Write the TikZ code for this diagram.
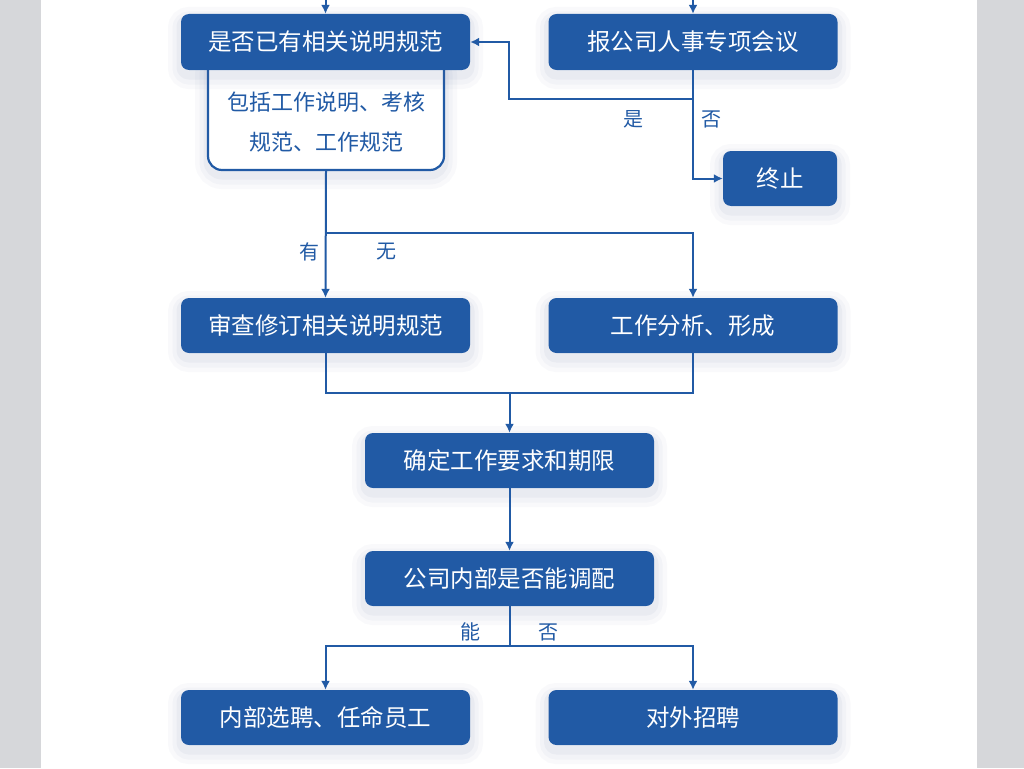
\documentclass[tikz,border=0pt]{standalone}
\usepackage{fontspec}
\newfontfamily\cjk{Noto Sans CJK SC}
\usetikzlibrary{arrows.meta}
\definecolor{bl}{RGB}{33,90,165}
\definecolor{shc}{RGB}{90,110,160}
\definecolor{side}{RGB}{214,215,218}
\begin{document}
\begin{tikzpicture}[x=1pt,y=-1pt,
  shad/.style={
    preaction={draw=shc,draw opacity=0.035,line width=26pt,transform canvas={yshift=-6pt}},
    preaction={draw=shc,draw opacity=0.045,line width=17pt,transform canvas={yshift=-6pt}},
    preaction={draw=shc,draw opacity=0.06,line width=9pt,transform canvas={yshift=-5pt}}},
  box/.style={shad,fill=bl,rounded corners=8pt,text=white,font=\cjk\fontsize{23.5}{28}\selectfont,minimum width=289pt,minimum height=56pt,inner sep=0pt},
  frame/.style={shad,fill=white,draw=bl,line width=2.2pt,rounded corners=14pt,minimum width=236pt,inner sep=0pt},
  lab/.style={text=bl,font=\cjk\fontsize{20}{24}\selectfont,inner sep=0pt},
  ln/.style={draw=bl,line width=2pt},
  arr/.style={ln,-{Latex[length=9pt,width=9pt]}}
]
\useasboundingbox (0,0) rectangle (1024,768);
\fill[white] (0,0) rectangle (1024,768);
\fill[side] (0,0) rectangle (41,768);
\fill[side] (977,0) rectangle (1024,768);

% nodes
\node[frame,minimum height=115pt] (n1b) at (326,112.5) {};
\node[text=bl,font=\cjk\fontsize{22}{40}\selectfont,align=center,inner sep=0pt] (n1t) at (326,122) {包括工作说明、考核\\规范、工作规范};
\node[box] (n1) at (325.5,42) {是否已有相关说明规范};
\node[box] (n2) at (693,42) {报公司人事专项会议};
\node[box,minimum width=114pt,minimum height=55pt] (n4) at (780,178.5) {终止};
\node[box,minimum height=55pt] (n3) at (325.5,325.5) {审查修订相关说明规范};
\node[box,minimum height=55pt] (n5) at (693,325.5) {工作分析、形成};
\node[box,minimum height=55pt] (n6) at (509.5,460.5) {确定工作要求和期限};
\node[box,minimum height=55pt] (n7) at (509.5,578.5) {公司内部是否能调配};
\node[box,minimum height=55pt] (n8) at (325.5,717.5) {内部选聘、任命员工};
\node[box,minimum height=55pt] (n9) at (693,717.5) {对外招聘};

% coordinates
\coordinate (t1) at (325.5,0);
\coordinate (t2) at (693,0);
\coordinate (j1) at (693,99);
\coordinate (j2) at (509,42);
\coordinate (j3) at (325.5,233);
\coordinate (j4) at (509.5,393);
\coordinate (j5) at (509.5,646);

% connectors
\draw[arr] (t1) -- (n1.north);
\draw[arr] (t2) -- (n2.north);
\draw[arr] (n2.south) -- (j1) -| (j2) -- (n1.east);
\draw[arr] (j1) |- (n4.west);
\draw[arr] (n1b.south) -- (n3.north);
\draw[arr] (j3) -| (n5.north);
\draw[ln] (n3.south) |- (j4) -| (n5.south);
\draw[arr] (j4) -- (n6.north);
\draw[arr] (n6.south) -- (n7.north);
\draw[ln] (n7.south) -- (j5);
\draw[arr] (j5) -| (n8.north);
\draw[arr] (j5) -| (n9.north);

% labels
\node[lab] (l1) at (633,119) {是};
\node[lab] (l2) at (711,119) {否};
\node[lab] (l3) at (309,252) {有};
\node[lab] (l4) at (386,252) {无};
\node[lab] (l5) at (470,632) {能};
\node[lab] (l6) at (548,632) {否};
\end{tikzpicture}
\end{document}
